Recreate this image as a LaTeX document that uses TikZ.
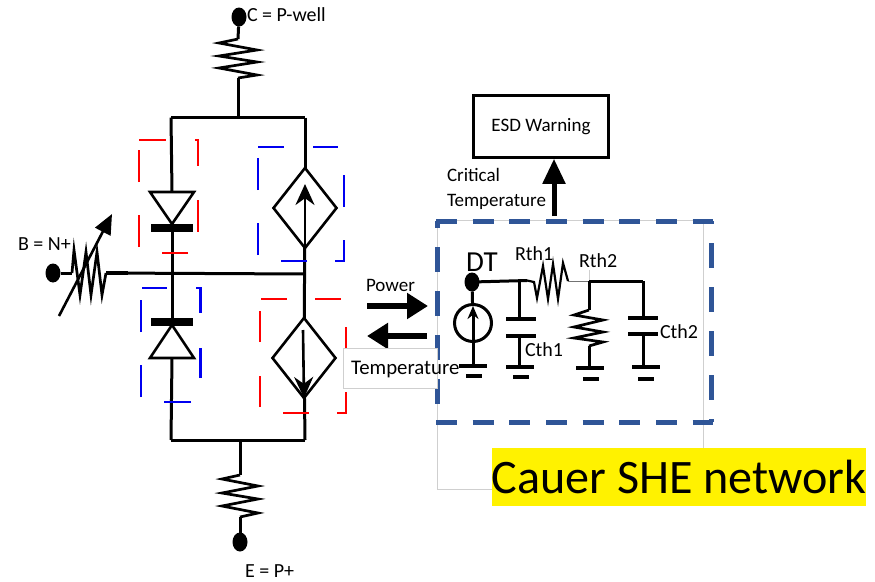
\documentclass[tikz,border=0pt]{standalone}
\usepackage{fontspec}
\setmainfont{Carlito}
\usepackage{xcolor}
\usepackage{tikz}
\usetikzlibrary{arrows.meta}
\usetikzlibrary{shapes.geometric}
\definecolor{shenavy}{HTML}{2F5597}
\definecolor{boxred}{HTML}{FF0000}
\definecolor{boxblue}{HTML}{0000F0}
\definecolor{thingray}{HTML}{CFCFCF}
\tikzset{
	wire/.style={draw=black, line width=3pt},
	thinwire/.style={draw=black!55, line width=1pt},
	zigzag/.style={draw=black, line width=2.7pt, line join=miter},
	terminal/.style={draw=none, fill=black, ellipse, inner sep=0, outer sep=0, minimum width=15, minimum height=19},
	plate/.style={draw=none, fill=black, rectangle, inner sep=0, outer sep=0, minimum width=30, minimum height=3.6},
	groundbar/.style={draw=none, fill=black, rectangle, inner sep=0, outer sep=0, minimum width=28, minimum height=3.4},
	groundtick/.style={draw=none, fill=black, rectangle, inner sep=0, outer sep=0, minimum width=16, minimum height=3.8},
	cathode/.style={draw=none, fill=black, rectangle, inner sep=0, outer sep=0, minimum width=42, minimum height=8.5},
	source/.style={draw=black, line width=2.6pt, diamond, inner sep=0, outer sep=0, minimum width=63, minimum height=80},
	dashred/.style={draw=boxred, line width=2.8pt},
	dashblue/.style={draw=boxblue, line width=2.8pt},
	shebox/.style={draw=shenavy, line width=5pt},
	label/.style={anchor=west, inner sep=0, outer sep=0, font=\fontsize{19}{19}\selectfont},
	bigarrow/.style={draw=black, line width=6pt, -{Triangle[length=21pt,width=25pt]}},
	smallarrow/.style={draw=black, line width=2.6pt, -{Stealth[length=21pt,width=19pt]}},
}
\begin{document}
\begin{tikzpicture}[x=1pt, y=-1pt]
	\useasboundingbox (0,0) rectangle (875,581);
	% bipolar part
	\node[terminal] (C) at (239, 17) {};
	\node[terminal] (B) at (53, 273) {};
	\node[terminal] (E) at (240, 542) {};
	\node[label, font=\fontsize{20}{20}\selectfont] (C Label) at (247, 15) {C = P-well};
	\node[label, font=\fontsize{20}{20}\selectfont] (B Label) at (18, 244) {B = N+};
	\node[label, font=\fontsize{20}{20}\selectfont] (E Label) at (245, 571) {E = P+};
	\coordinate (RC Top) at (238, 39);
	\coordinate (RC Bottom) at (238, 78);
	\coordinate (RE Top) at (240, 475);
	\coordinate (RE Bottom) at (240, 517);
	\coordinate (Top Bus) at (238, 117.5);
	\coordinate (Top Left) at (171, 117.5);
	\coordinate (Top Right) at (305, 117.5);
	\coordinate (Bottom Bus) at (240, 440);
	\coordinate (Bottom Left) at (171, 440);
	\coordinate (Bottom Right) at (305, 440);
	\coordinate (Base Left) at (172, 274);
	\coordinate (Base Right) at (305, 274);
	\coordinate (RB Left) at (72, 273);
	\coordinate (RB Right) at (106, 273);
	\coordinate (RB Stub) at (128, 273);
	\coordinate (RB Tail) at (59, 316);
	\coordinate (RB Tip) at (112, 214);
	\node[cathode] (Diode Top Bar) at (172, 228) {};
	\node[cathode] (Diode Low Bar) at (172, 322) {};
	\coordinate (Diode Top Base) at (172, 192);
	\coordinate (Diode Low Base) at (172, 358);
	\node[source] (Source Top) at (305, 208) {};
	\node[source] (Source Low) at (304, 358) {};
	\draw[wire] (C) -- (RC Top);
	\draw[wire] (RC Bottom) -- (Top Bus);
	\draw[wire] (Top Left) -- (Top Right);
	\draw[wire] (Top Left) -- (Diode Top Base);
	\draw[wire] (Top Right) -- (Source Top);
	\draw[wire] (Diode Top Bar) -- (Base Left);
	\draw[wire] (Base Left) -- (Diode Low Bar);
	\draw[wire] (RB Right) -- (Base Right);
	\draw[wire, line width=4pt] (RB Right) -- (RB Stub);
	\draw[wire] (Source Top) -- (Source Low);
	\draw[wire] (Diode Low Base) -- (Bottom Left);
	\draw[wire] (Source Low) -- (Bottom Right);
	\draw[wire] (Bottom Left) -- (Bottom Right);
	\draw[wire] (Bottom Bus) -- (RE Top);
	\draw[wire] (RE Bottom) -- (E);
	\draw[wire] (B) -- (RB Left);
	\draw[zigzag] (RC Top) -- (219,43) -- (257,50) -- (219,56) -- (257,62) -- (219,68) -- (257,75) -- (RC Bottom);
	\draw[zigzag] (RE Top) -- (222,479) -- (258,486) -- (222,493) -- (258,499) -- (222,506) -- (258,513) -- (RE Bottom);
	\draw[zigzag] (RB Left) -- (74,250) -- (80,295) -- (86,252) -- (91,295) -- (97,252) -- (102,295) -- (RB Right);
	\draw[draw=black, line width=2.6pt, -{Triangle[length=20pt,width=17pt]}] (RB Tail) -- (RB Tip);
	\draw[draw=black, line width=2.6pt, line join=miter] (150,192) -- (194,192) -- (172,224) -- cycle;
	\draw[draw=black, line width=2.6pt, line join=miter] (150,358) -- (194,358) -- (172,325) -- cycle;
	\draw[smallarrow] (Source Top.south) -- (Source Top.center |- 0,184);
	\draw[smallarrow] (303,330) -- (Source Low.south);
	% dashed boxes
	\draw[dashred] (139,140) -- (166,140) (195,140) -- (198,140) -- (198,166) (198,200) -- (198,232) (188,253) -- (162,253) (139,247) -- (139,215) (139,182) -- (139,150);
	\draw[dashblue] (258,147) -- (284,147) (313,147) -- (338,147) (344,175) -- (344,207) (344,240) -- (344,261) -- (335,261) (307,261) -- (281,261) (258,255) -- (258,223) (258,190) -- (258,158);
	\draw[dashblue] (142,288) -- (167,288) (196,288) -- (200.5,288) -- (200.5,313) (200.5,348) -- (200.5,378) (191,402) -- (164,402) (141,397) -- (141,365) (141,332) -- (141,300);
	\draw[dashred] (261,299) -- (287,299) (315,299) -- (341,299) (346,327) -- (346,358) (346,392) -- (346,413) -- (337,413) (309,413) -- (283,413) (260,407) -- (260,376) (260,342) -- (260,311);
	% thermal part
	\draw[draw=thingray, line width=1pt] (437,220) rectangle (703,489);
	\coordinate (Box NW) at (436,221);
	\coordinate (Box NE) at (713,221);
	\coordinate (Box SW) at (436,422);
	\coordinate (Box SE) at (713,422);
	\draw[shebox, dash pattern=on 21pt off 15.67pt] (Box NW) -- (Box NE);
	\draw[shebox, dash pattern=on 21pt off 15.67pt] (Box SW) -- (Box SE);
	\draw[shebox, dash pattern=on 25pt off 19pt, dash phase=18pt] (437,221) -- (437,422);
	\draw[shebox, dash pattern=on 25pt off 19pt, dash phase=22pt] (711,221) -- (711,422);
	\node[draw=black, line width=2.6pt, rectangle, minimum width=135, minimum height=62, inner sep=0, text depth=3pt, font=\fontsize{19}{19}\selectfont] (ESD Warning) at (541, 126.5) {ESD Warning};
	\coordinate (Critical Tail) at (554, 216);
	\draw[bigarrow, line width=5pt, -{Triangle[length=25pt,width=22pt]}] (Critical Tail) -- (ESD Warning.south -| Critical Tail);
	\node[label] (Critical) at (447, 175) {Critical};
	\node[label] (Critical Temperature) at (447, 202) {Temperature};
	\node[label] (Power) at (366, 285) {Power};
	\coordinate (Power Left) at (367, 306);
	\coordinate (Power Right) at (428, 306);
	\coordinate (Temp Left) at (367, 336);
	\coordinate (Temp Right) at (427, 336);
	\draw[bigarrow] (Power Left) -- (Power Right);
	\draw[bigarrow] (Temp Right) -- (Temp Left);
	\draw[draw=thingray, fill=white, line width=1pt] (343,348) rectangle (437,388);
	\node[label, font=\fontsize{20.8}{20.8}\selectfont] (Temperature) at (351, 369) {Temperature};
	% cauer network
	\node[terminal] (DT) at (472, 282) {};
	\node[label, font=\fontsize{29}{29}\selectfont] (DT Label) at (466, 262) {DT};
	\node[label, font=\fontsize{20}{20}\selectfont] (Rth1) at (515, 254) {Rth1};
	\node[label, font=\fontsize{20}{20}\selectfont] (Rth2) at (579, 261) {Rth2};
	\node[label, font=\fontsize{20}{20}\selectfont] (Cth1) at (525, 350) {Cth1};
	\node[label, font=\fontsize{20}{20}\selectfont] (Cth2) at (660, 332) {Cth2};
	\coordinate (Rail One) at (527, 280.5);
	\coordinate (Rail Cap) at (519, 280.5);
	\coordinate (Rth1 End) at (568, 281);
	\coordinate (Rail Two) at (589, 281);
	\coordinate (Rail Three) at (643, 281);
	\coordinate (Rth2 Top) at (589, 310);
	\coordinate (Rth2 Bottom) at (589, 346);
	\coordinate (Rth2 Stub) at (589, 270);
	\coordinate (Arrow Tip) at (473, 306);
	\node[circle, draw=black, line width=3pt, inner sep=0, outer sep=0, minimum size=37] (Heat Source) at (473, 323) {};
	\node[plate] (Cth1 Top) at (521, 319) {};
	\node[plate] (Cth1 Low) at (521, 336) {};
	\node[plate] (Cth2 Top) at (643, 318) {};
	\node[plate] (Cth2 Low) at (643, 334) {};
	\node[groundbar] (Gnd One) at (473, 366) {};
	\node[groundtick] (Tick One) at (474, 376) {};
	\node[groundbar] (Gnd Two) at (520, 367) {};
	\node[groundtick] (Tick Two) at (521, 377) {};
	\node[groundbar] (Gnd Three) at (590, 368) {};
	\node[groundtick] (Tick Three) at (590.5, 379) {};
	\node[groundbar] (Gnd Four) at (645.5, 367) {};
	\node[groundtick] (Tick Four) at (646, 379) {};
	\draw[wire] (DT) -- (Heat Source);
	\draw[wire, -{Stealth[length=13pt,width=11pt]}] (Gnd One) -- (Arrow Tip);
	\draw[wire] (DT.center) -- (Rail One);
	\draw[wire] (Rail Cap) -- (Cth1 Top.center -| Rail Cap);
	\draw[wire] (Cth1 Low.center -| Rail Cap) -- (Gnd Two.center -| Rail Cap);
	\draw[zigzag, line width=2.2pt] (Rail One) -- (534,282) -- (537,298) -- (543,266) -- (548,299) -- (553,264) -- (558,299) -- (563,263) -- (Rth1 End);
	\draw[thinwire] (Rth1 End) -- (Rail Two);
	\draw[draw=thingray, line width=1pt] (Rail Two) -- (Rth2 Stub);
	\draw[wire] (Rail Two) -- (Rail Three);
	\draw[wire] (Rail Two) -- (Rth2 Top);
	\draw[zigzag] (Rth2 Top) -- (574,315) -- (603,320) -- (574,327) -- (603,332) -- (574,338) -- (603,342) -- (Rth2 Bottom);
	\draw[wire] (Rth2 Bottom) -- (Gnd Three.center -| Rth2 Bottom);
	\draw[wire] (Rail Three) -- (Cth2 Top);
	\draw[wire] (Cth2 Low) -- (Gnd Four.center -| Cth2 Low);
	\node[fill=yellow, inner sep=0, outer sep=0, minimum width=374, minimum height=58, font=\fontsize{48.1}{48.1}\selectfont] (Cauer) at (679, 477) {Cauer SHE network};
\end{tikzpicture}
\end{document}
